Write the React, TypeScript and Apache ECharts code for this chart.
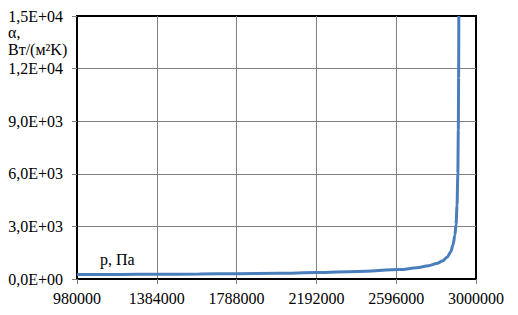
import React, { useEffect, useRef } from "react";
import * as echarts from "echarts";

const X0 = 980000;
const X_MAX = 3000000;
const X_STEP = 404000;
const Y_MAX = 15000;
const Y_STEP = 3000;

const pressure = [
  980000, 1200000, 1384000, 1600000, 1788000, 2000000, 2192000, 2400000,
  2617000, 2700000, 2760000, 2800000, 2830000, 2855000, 2872000, 2884000,
  2893000, 2899000, 2904000, 2908000, 2910500, 2912000, 2913000,
];
const alpha = [
  250, 260, 268, 285, 305, 330, 365, 430,
  536, 640, 760, 880, 1020, 1250, 1550, 1950,
  2500, 3100, 4200, 6000, 8500, 11500, 15000,
];

const yAxisTitle1 = "α,";
const yAxisTitle2 = "Вт/(м²K)";
const xAxisTitle = "p, Па";

const FONT = "'Liberation Serif', 'Times New Roman', serif";

function sci(v: number): string {
  if (v === 0) return "0,0E+00";
  const e = Math.floor(Math.log10(Math.abs(v)) + 1e-9);
  const m = v / Math.pow(10, e);
  return (
    m.toFixed(1).replace(".", ",") +
    "E" +
    (e >= 0 ? "+" : "-") +
    String(Math.abs(e)).padStart(2, "0")
  );
}

export default function App() {
  const ref = useRef<HTMLDivElement>(null);
  useEffect(() => {
    if (!ref.current) return;
    const chart = echarts.init(ref.current, undefined, { renderer: "svg" });
    const data = pressure.map((p, i) => [p - X0, alpha[i]]);
    chart.setOption({
      animation: false,
      backgroundColor: "#ffffff",
      grid: {
        left: 77,
        right: 42,
        top: 16,
        bottom: 36,
        show: true,
        borderColor: "#000000",
        borderWidth: 2,
        backgroundColor: "transparent",
      },
      xAxis: {
        type: "value",
        min: 0,
        max: X_MAX - X0,
        interval: X_STEP,
        axisLine: { show: true, onZero: false, lineStyle: { color: "#000", width: 2 } },
        axisTick: { show: true, length: 5, lineStyle: { color: "#808080", width: 1 } },
        axisLabel: {
          margin: 11,
          fontFamily: FONT,
          fontSize: 16,
          color: "#000",
          formatter: (v: number) => String(v + X0),
        },
        splitLine: {
          show: true,
          showMinLine: false,
          showMaxLine: false,
          lineStyle: { color: "#808080", width: 1 },
        },
      },
      yAxis: {
        type: "value",
        min: 0,
        max: Y_MAX,
        interval: Y_STEP,
        axisLine: { show: true, lineStyle: { color: "#000", width: 2 } },
        axisTick: { show: true, length: 5, lineStyle: { color: "#808080", width: 1 } },
        axisLabel: {
          margin: 14,
          fontFamily: FONT,
          fontSize: 16,
          color: "#000",
          formatter: (v: number) => sci(v),
        },
        splitLine: {
          show: true,
          showMinLine: false,
          showMaxLine: false,
          lineStyle: { color: "#808080", width: 1 },
        },
      },
      graphic: [
        {
          type: "text",
          left: 8,
          top: 24,
          style: { text: yAxisTitle1, font: `16px ${FONT}`, fill: "#000" },
        },
        {
          type: "text",
          left: 8,
          top: 41,
          style: { text: yAxisTitle2, font: `16px ${FONT}`, fill: "#000" },
        },
        {
          type: "text",
          left: 100,
          top: 251,
          style: { text: xAxisTitle, font: `16px ${FONT}`, fill: "#000" },
        },
      ],
      series: [
        {
          type: "line",
          data,
          showSymbol: false,
          smooth: 0.3,
          smoothMonotone: "x",
          lineStyle: { color: "#4A7EBB", width: 3 },
          clip: true,
          z: 3,
        },
      ],
    });
    return () => chart.dispose();
  }, []);
  return (
    <div
      ref={ref}
      style={{ position: "fixed", left: 0, top: 0, width: 518, height: 315 }}
    />
  );
}
